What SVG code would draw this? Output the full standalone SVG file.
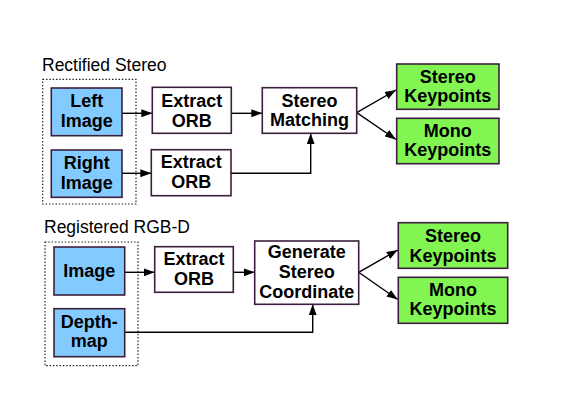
<svg xmlns="http://www.w3.org/2000/svg" width="572" height="418" viewBox="0 0 572 418">
<style>
.box{stroke:#3c1f3c;stroke-width:1.6}
.w{fill:#ffffff}
.b{fill:#83caff}
.g{fill:#82f552}
.t{font-family:"Liberation Sans",Arial,sans-serif;font-weight:bold;font-size:18px;fill:#000;text-anchor:middle}
.lab{font-family:"Liberation Sans",Arial,sans-serif;font-size:17.5px;fill:#000}
.dot{fill:none;stroke:#222;stroke-width:1.2;stroke-dasharray:1.5 1.8}
.c{fill:none;stroke:#000;stroke-width:1.4}
</style>
<defs>
<marker id="ah" markerUnits="userSpaceOnUse" markerWidth="12" markerHeight="10" refX="11" refY="5" orient="auto">
<path d="M0,1 L11,5 L0,9 Z" fill="#000"/>
</marker>
</defs>
<rect width="572" height="418" fill="#ffffff"/>
<text class="lab" x="42" y="70.5">Rectified Stereo</text>
<text class="lab" x="44" y="233.3">Registered RGB-D</text>
<g id="connectors">
<line class="c" x1="122" y1="113.3" x2="152.3" y2="113.3" marker-end="url(#ah)"/>
<line class="c" x1="231.3" y1="113.3" x2="262.3" y2="113.3" marker-end="url(#ah)"/>
<line class="c" x1="122" y1="173.3" x2="151.3" y2="173.3" marker-end="url(#ah)"/>
<polyline class="c" points="231,173.3 310.7,173.3 310.7,133.3" marker-end="url(#ah)"/>
<line class="c" x1="356.7" y1="112.7" x2="396" y2="90" marker-end="url(#ah)"/>
<line class="c" x1="356.7" y1="112.7" x2="396" y2="139.5" marker-end="url(#ah)"/>
<line class="c" x1="124.7" y1="272.3" x2="154.7" y2="272.3" marker-end="url(#ah)"/>
<line class="c" x1="233.3" y1="272.3" x2="254.7" y2="272.3" marker-end="url(#ah)"/>
<polyline class="c" points="124.7,332.3 312.7,332.3 312.7,304.3" marker-end="url(#ah)"/>
<line class="c" x1="358.7" y1="272.3" x2="397.7" y2="250" marker-end="url(#ah)"/>
<line class="c" x1="358.7" y1="272.3" x2="397.7" y2="299.5" marker-end="url(#ah)"/>
</g>
<rect id="group-rectified" class="dot" x="42.7" y="79.3" width="93.3" height="124.7"/>
<rect id="group-rgbd" class="dot" x="45" y="242" width="93" height="123.7"/>
<g id="left-image">
<rect class="box b" x="51.3" y="88" width="70.7" height="47.7"/>
<text class="t"><tspan x="86.7" y="107.3">Left</tspan><tspan x="86.7" y="127.3">Image</tspan></text>
</g>
<g id="right-image">
<rect class="box b" x="51.3" y="150" width="70.7" height="47.3"/>
<text class="t"><tspan x="86.7" y="169">Right</tspan><tspan x="86.7" y="189">Image</tspan></text>
</g>
<g id="extract-orb-1">
<rect class="box w" x="152.3" y="87.3" width="79" height="46"/>
<text class="t"><tspan x="191.8" y="107.3">Extract</tspan><tspan x="191.8" y="126.7">ORB</tspan></text>
</g>
<g id="extract-orb-2">
<rect class="box w" x="151.3" y="149.7" width="79.7" height="46"/>
<text class="t"><tspan x="191.2" y="168.3">Extract</tspan><tspan x="191.2" y="188.3">ORB</tspan></text>
</g>
<g id="stereo-matching">
<rect class="box w" x="262.3" y="87.7" width="94.4" height="45.6"/>
<text class="t"><tspan x="309.5" y="106.7">Stereo</tspan><tspan x="309.5" y="126">Matching</tspan></text>
</g>
<g id="stereo-keypoints-1">
<rect class="box g" x="396.7" y="64" width="102.3" height="45.3"/>
<text class="t"><tspan x="447.8" y="82.7">Stereo</tspan><tspan x="447.8" y="101.7">Keypoints</tspan></text>
</g>
<g id="mono-keypoints-1">
<rect class="box g" x="396.7" y="118.3" width="102.3" height="45.4"/>
<text class="t"><tspan x="447.8" y="136.7">Mono</tspan><tspan x="447.8" y="155.7">Keypoints</tspan></text>
</g>
<g id="image">
<rect class="box b" x="54" y="247" width="70.7" height="48"/>
<text class="t" x="89.3" y="276.7">Image</text>
</g>
<g id="depth-map">
<rect class="box b" x="54" y="308.7" width="70.7" height="48"/>
<text class="t"><tspan x="89.3" y="328.3">Depth-</tspan><tspan x="89.3" y="347.3">map</tspan></text>
</g>
<g id="extract-orb-3">
<rect class="box w" x="154.7" y="246.7" width="78.6" height="45.6"/>
<text class="t"><tspan x="194" y="265">Extract</tspan><tspan x="194" y="285">ORB</tspan></text>
</g>
<g id="generate-stereo-coordinate">
<rect class="box w" x="254.7" y="241" width="104" height="63.3"/>
<text class="t"><tspan x="306.7" y="258.3">Generate</tspan><tspan x="306.7" y="278.3">Stereo</tspan><tspan x="306.7" y="298.3">Coordinate</tspan></text>
</g>
<g id="stereo-keypoints-2">
<rect class="box g" x="398.3" y="222.7" width="109.4" height="45.6"/>
<text class="t"><tspan x="453" y="241.7">Stereo</tspan><tspan x="453" y="261.7">Keypoints</tspan></text>
</g>
<g id="mono-keypoints-2">
<rect class="box g" x="398.3" y="277.3" width="109.4" height="46"/>
<text class="t"><tspan x="453" y="296">Mono</tspan><tspan x="453" y="315">Keypoints</tspan></text>
</g>
</svg>
